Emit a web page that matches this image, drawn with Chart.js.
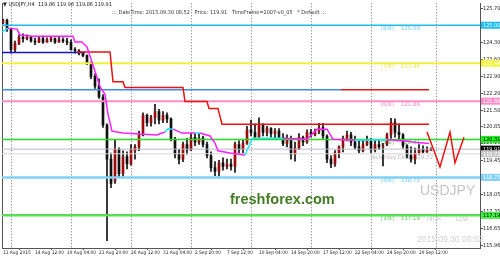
<!DOCTYPE html>
<html>
<head>
<meta charset="utf-8">
<script src="https://cdn.jsdelivr.net/npm/chart.js@4.4.0/dist/chart.umd.min.js"></script>
<style>
html, body { margin: 0; padding: 0; background: #fff; }
#wrap { width: 500px; height: 258px; }
</style>
</head>
<body>
<div id="wrap"><canvas id="myChart" width="500" height="258"></canvas></div>
<script>
// USDJPY H4, 11 Aug - 30 Sep 2015 (one candle per 8 hours)
const timeLabels = ['11 Aug 2015', '14 Aug 12:00', '19 Aug 04:00', '21 Aug 20:00', '26 Aug 12:00', '31 Aug 04:00',
    '2 Sep 20:00', '7 Sep 12:00', '10 Sep 04:00', '14 Sep 20:00', '17 Sep 12:00', '22 Sep 04:00', '24 Sep 20:00', '29 Sep 12:00'];
const labelBars = [0, 8, 16, 24, 32, 40, 48, 56, 64, 72, 80, 88, 96, 104];
const gridBars = [9.5, 24.5, 39.5, 54.5, 69.5, 84.5, 99.5, 117.25];

const opens = [125.10, 125.20, 124.85, 124.00, 124.25, 124.50, 124.45, 124.50, 124.35, 124.30,
    124.45, 124.30, 124.40, 124.45, 124.30, 124.40, 124.35, 124.30, 124.00, 123.95,
    123.85, 123.75, 123.45, 122.90, 122.50, 122.05, 120.90, 119.50, 118.60, 119.90,
    118.90, 119.60, 119.30, 119.85, 120.00, 120.50, 121.30, 121.00, 121.20, 121.45,
    121.10, 121.30, 121.15, 120.30, 119.70, 119.50, 120.10, 119.90, 120.40, 120.20,
    120.35, 120.10, 119.65, 119.15, 119.00, 119.35, 119.20, 119.30, 119.20, 120.10,
    119.90, 120.15, 120.70, 120.60, 120.40, 120.90, 120.60, 120.75, 120.55, 120.65,
    120.40, 120.15, 120.30, 119.70, 119.95, 120.40, 120.20, 120.60, 120.50, 120.65,
    120.80, 120.45, 119.50, 119.30, 119.75, 120.00, 120.35, 120.50, 120.20, 120.00,
    119.85, 120.10, 120.30, 119.90, 120.10, 120.00, 120.10, 120.50, 121.00, 120.60,
    120.50, 120.05, 119.65, 119.50, 119.75, 119.90, 119.80, 119.86];
const highs = [125.25, 125.25, 124.85, 124.35, 124.60, 124.65, 124.60, 124.55, 124.47, 124.52,
    124.55, 124.48, 124.52, 124.48, 124.52, 124.48, 124.47, 124.40, 124.08, 124.00,
    123.90, 123.78, 123.50, 123.00, 122.80, 122.15, 120.95, 119.75, 120.30, 119.96,
    119.84, 119.80, 120.10, 120.10, 120.65, 121.40, 121.35, 121.30, 121.75, 121.55,
    121.45, 121.40, 121.20, 120.40, 119.90, 120.20, 120.35, 120.55, 120.55, 120.55,
    120.45, 120.20, 119.80, 119.40, 119.45, 119.55, 119.50, 119.50, 120.20, 120.25,
    120.30, 120.85, 121.10, 120.95, 121.20, 120.95, 120.85, 120.80, 120.75, 120.75,
    120.55, 120.50, 120.45, 120.20, 120.55, 120.45, 120.70, 120.72, 120.73, 120.97,
    120.97, 120.50, 119.65, 119.85, 120.05, 120.45, 120.65, 120.60, 120.45, 120.30,
    120.30, 120.45, 120.35, 120.30, 120.30, 120.15, 120.57, 121.18, 121.15, 120.95,
    120.55, 120.10, 120.00, 119.95, 120.10, 120.05, 120.00, 119.96];
const lows = [125.05, 124.75, 123.85, 123.90, 124.20, 124.30, 124.40, 124.30, 124.20, 124.28,
    124.25, 124.30, 124.32, 124.25, 124.30, 124.28, 124.20, 123.98, 123.85, 123.78,
    123.70, 123.38, 122.80, 122.40, 121.99, 120.80, 116.15, 118.33, 118.50, 118.74,
    118.80, 119.10, 119.25, 119.50, 119.85, 120.45, 120.85, 120.85, 120.95, 120.95,
    121.00, 121.00, 120.25, 119.55, 119.30, 119.40, 119.70, 119.85, 120.05, 120.10,
    120.00, 119.55, 119.00, 118.82, 118.80, 119.05, 119.10, 119.05, 118.95, 119.75,
    119.75, 120.10, 120.45, 120.30, 120.40, 120.45, 120.45, 120.40, 120.30, 120.30,
    120.05, 120.00, 119.50, 119.42, 119.90, 120.05, 120.15, 120.40, 120.45, 120.55,
    120.35, 119.35, 119.15, 119.20, 119.55, 119.80, 120.25, 120.05, 119.92, 119.75,
    119.80, 120.05, 119.75, 119.80, 119.90, 119.22, 120.05, 120.35, 120.40, 120.30,
    119.95, 119.55, 119.38, 119.30, 119.70, 119.75, 119.78, 119.86];
const closes = [125.20, 124.85, 124.00, 124.25, 124.50, 124.45, 124.50, 124.35, 124.30, 124.45,
    124.30, 124.40, 124.45, 124.30, 124.40, 124.35, 124.30, 124.00, 123.95, 123.85,
    123.75, 123.45, 122.90, 122.50, 122.05, 120.90, 119.50, 118.50, 119.90, 118.90,
    119.60, 119.30, 119.90, 120.00, 120.50, 121.30, 121.00, 121.20, 121.45, 121.10,
    121.30, 121.15, 120.30, 119.70, 119.50, 120.10, 119.90, 120.40, 120.20, 120.35,
    120.10, 119.65, 119.15, 119.00, 119.35, 119.20, 119.30, 119.20, 120.10, 119.90,
    120.15, 120.70, 120.60, 120.40, 120.90, 120.60, 120.75, 120.55, 120.65, 120.40,
    120.15, 120.30, 119.70, 119.95, 120.40, 120.20, 120.60, 120.50, 120.65, 120.80,
    120.45, 119.50, 119.30, 119.75, 120.00, 120.35, 120.50, 120.20, 120.00, 119.85,
    120.10, 120.30, 119.90, 120.10, 120.00, 120.05, 120.50, 121.00, 120.60, 120.50,
    120.05, 119.65, 119.50, 119.75, 119.90, 119.80, 119.90, 119.91];

// trend line of the indicator: [bar, price], null = gap
const magentaPts = [[1.25, 124.88], [3.5, 124.84], [4.25, 124.60], [7.5, 124.55], [17.5, 124.55], [18, 124.31], [19.75, 124.31],
    [20.5, 124.19], [21, 124.11], [24.25, 122.48], [25.5, 122.16], [26.25, 121.34], [27.25, 120.65], [30, 120.57],
    [38.5, 120.49], [39.75, 120.57], [40.5, 120.61], [41, null], [42.5, 120.73], [44.75, 120.57], [48, 120.57], [48.5, null],
    [49.25, 120.57], [51.75, 120.45], [53, 120.16], [53.75, 119.84], [56.75, 119.75], [60.5, 119.67], [61, null],
    [70, 120.36], [76, 120.32], [78.5, 120.73], [81, 120.73], [82.5, 120.32], [88, 120.28], [90, null],
    [96, 120.30], [100.5, 120.24], [103.5, 120.18], [106.5, 120.14]];
const cyanPts = [[-0.25, 124.72], [1.25, 124.88], [2, null], [40.5, 120.61], [41.25, 120.75], [42.5, 120.73], [43, null],
    [48, 120.57], [49.25, 120.57], [50, null], [60.5, 119.67], [62.25, 120.32], [62.75, 120.36], [70, 120.36], [72, null],
    [88, 120.28], [96, 120.30]];
const resistPts = [[18.5, 123.90], [26.75, 123.90], [27.5, 122.68], [30, 122.68], [30.5, 122.44], [45, 122.44], [45.5, 121.87],
    [51, 121.87], [51.5, 121.58], [53.75, 121.58], [54.75, 120.93], [106.5, 120.93]];
const zigzagPts = [[106, 120.61], [109.25, 119.18], [111.75, 120.61], [113, 119.35], [115.25, 120.40]];

const murreyLevels = [125.00, 123.44, 121.88, 120.31, 118.75, 117.19];
const murreyTags = ['[8/8]', '[7/8]', '[6/8]', '[5/8]', '[4/8]', '[3/8]'];
const bidPrice = 119.91;
const yesterdayClose = 119.72;
const pivotLevel = 122.35;
const supportLevel = 123.88;
const priceTicks = [125.70, 125.00, 124.30, 123.60, 122.90, 122.20, 121.50, 120.85, 120.16, 119.45,
    118.75, 118.05, 117.35, 116.65, 115.96];

const xMin = -0.25, xMax = 119.25;
const small = '"Liberation Sans Narrow", "DejaVu Sans Condensed", sans-serif';
const murreyColors = ['#1ebcf0', '#f2f040', '#ff8cc6', '#22dd22', '#7fd0f4', '#55e055'];
const murreyTextColors = ['#66ccff', '#e8e860', '#ff88bb', '#55cc55', '#66ccff', '#55cc55'];
const murreyWidths = [1.5, 2, 2, 1.5, 2.5, 2.5];

const toXY = pts => pts.map(p => ({ x: p[0], y: p[1] }));

function hline(y, x0, x1, color, width, order) {
    return {
        type: 'line', data: [{ x: x0, y: y }, { x: x1, y: y }],
        borderColor: color, borderWidth: width, pointRadius: 0, order: order
    };
}

const datasets = [];
datasets.push({
    type: 'bar', data: highs.map((h, i) => ({ x: i, y: [lows[i], h] })),
    backgroundColor: '#111', barThickness: 1, grouped: false, order: 11
});
datasets.push({
    type: 'bar', data: opens.map((o, i) => ({ x: i, y: [o, closes[i]] })),
    backgroundColor: c => closes[c.dataIndex] >= opens[c.dataIndex] ? '#9e0a0a' : '#111',
    barThickness: 2, minBarLength: 1, grouped: false, order: 10
});
murreyLevels.forEach((v, k) => datasets.push(hline(v, xMin, xMax, murreyColors[k], murreyWidths[k], 8)));
datasets.push(hline(bidPrice, xMin, xMax, '#b4b9cc', 1, 8));
datasets.push(hline(yesterdayClose, xMin, xMax, '#d6d6d6', 1, 8));
datasets.push(hline(pivotLevel, xMin, 84.5, '#3a8ce8', 1.5, 7));
datasets.push(hline(pivotLevel, 84.5, 106.5, '#e01818', 1.5, 7));
datasets.push(hline(supportLevel, xMin, 20.5, '#1414d0', 1.5, 7));
datasets.push({ type: 'line', data: toXY(resistPts), borderColor: '#ee1111', borderWidth: 1.5, pointRadius: 0, order: 6 });
datasets.push({ type: 'line', data: toXY(magentaPts), borderColor: '#ff1eff', borderWidth: 1.5, pointRadius: 0, spanGaps: false, order: 5 });
datasets.push({ type: 'line', data: toXY(cyanPts), borderColor: '#1ee8ff', borderWidth: 1.5, pointRadius: 0, spanGaps: false, order: 4 });
datasets.push({ type: 'line', data: toXY(zigzagPts), borderColor: '#f01010', borderWidth: 1.5, pointRadius: 0, order: 3 });

const overlay = {
    id: 'overlay',
    beforeDatasetsDraw(chart) {
        const ctx = chart.ctx, xs = chart.scales.x, ys = chart.scales.y;
        ctx.save();
        ctx.textBaseline = 'middle';
        ctx.textAlign = 'left';
        ctx.font = 'bold 14.5px "Liberation Sans", sans-serif';
        ctx.fillStyle = '#427c22';
        ctx.fillText('freshforex.com', 230, 200);
        ctx.font = '14px "Liberation Sans", sans-serif';
        ctx.fillStyle = '#c6c6c6';
        ctx.fillText('USDJPY', 420, 191);
        ctx.font = '8.5px "Liberation Sans", sans-serif';
        ctx.fillStyle = '#d2d2d2';
        ctx.fillText('2015.09.30 08:52', 417, 240);

        ctx.font = '5.5px ' + small;
        ctx.fillStyle = '#222';
        ctx.fillText('\u25BC USDJPY,H4  119.86 119.96 119.86 119.91', 3, 5);
        ctx.fillStyle = '#333';
        ctx.fillText('::: DateTime: 2015.09.30 08:52   Price: 119.91   TimeFrame=2007-v0_05   * Default :::', 112, 13);

        ctx.font = '6px ' + small;
        murreyLevels.forEach((v, k) => {
            const y = ys.getPixelForValue(v) + 3.5;
            ctx.fillStyle = murreyTextColors[k];
            ctx.fillText(murreyTags[k], xs.getPixelForValue(94.5), y);
            ctx.fillText(v.toFixed(2), xs.getPixelForValue(99.5), y);
        });
        ctx.fillStyle = '#c4c4c4';
        const yl = ys.getPixelForValue(117.19) + 4;
        ctx.fillText('HIGH', xs.getPixelForValue(106), yl);
        ctx.fillText('LOW', xs.getPixelForValue(113.25), yl);
        ctx.fillStyle = '#b8b8b8';
        ctx.fillText('Yesterday Close ' + yesterdayClose.toFixed(2), xs.getPixelForValue(91.75), ys.getPixelForValue(yesterdayClose) + 4);
        ctx.restore();
    },
    afterDraw(chart) {
        const ctx = chart.ctx, ys = chart.scales.y, right = chart.chartArea.right;
        const boxes = [
            [murreyLevels[0], '#1ebcf0', '#fff'], [murreyLevels[1], '#f6f43c', '#fff'], [murreyLevels[2], '#ff8cc6', '#fff'],
            [murreyLevels[3], '#22ee22', '#000'], [bidPrice, '#000', '#fff'], [yesterdayClose, '#c6c6c6', '#fff'],
            [murreyLevels[4], '#7fd0f4', '#fff'], [murreyLevels[5], '#44ee44', '#000']
        ];
        ctx.save();
        ctx.font = '5.5px ' + small;
        ctx.textBaseline = 'middle';
        boxes.forEach(b => {
            const y = ys.getPixelForValue(b[0]);
            ctx.fillStyle = b[1];
            ctx.fillRect(right + 1, y - 3.5, 500 - right - 1, 7);
            ctx.fillStyle = b[2];
            ctx.fillText(b[0].toFixed(2), right + 3, y + 0.5);
        });
        ctx.restore();
    }
};

const ctx = document.getElementById('myChart').getContext('2d');
const myChart = new Chart(ctx, {
    type: 'bar',
    data: { datasets: datasets },
    plugins: [overlay],
    options: {
        responsive: false,
        animation: false,
        devicePixelRatio: 1,
        layout: { padding: { top: 1, left: 2, right: 0, bottom: 0 } },
        plugins: { legend: { display: false }, tooltip: { enabled: false } },
        scales: {
            x: {
                type: 'linear', min: xMin, max: xMax, offset: false, position: 'bottom',
                afterBuildTicks: ax => { ax.ticks = labelBars.map(v => ({ value: v })); },
                afterFit: ax => { ax.height = 10; },
                ticks: {
                    autoSkip: false, maxRotation: 0, align: 'start', padding: 0, color: '#222',
                    font: { family: small, size: 4.8 },
                    callback: v => timeLabels[labelBars.indexOf(v)] || ''
                },
                grid: { drawOnChartArea: false, tickLength: 2, color: '#555' },
                border: { color: '#555' }
            },
            xg: {
                type: 'linear', min: xMin, max: xMax, offset: false, position: 'bottom', weight: 5,
                afterBuildTicks: ax => { ax.ticks = gridBars.map(v => ({ value: v })); },
                afterFit: ax => { ax.height = 0; },
                ticks: { display: false },
                grid: { drawTicks: false, color: '#707070', lineWidth: 1 },
                border: { display: false, dash: [1, 2] }
            },
            y: {
                type: 'linear', position: 'right', min: 115.85, max: 125.90,
                afterBuildTicks: ax => { ax.ticks = priceTicks.map(v => ({ value: v })); },
                afterFit: ax => { ax.width = 20; },
                ticks: { padding: 0, color: '#222', font: { family: small, size: 5.5 }, callback: v => v.toFixed(2) },
                grid: { drawOnChartArea: false, tickLength: 3, color: '#555' },
                border: { color: '#555' }
            },
            yl: {
                type: 'linear', position: 'left',
                afterFit: ax => { ax.width = 0; },
                ticks: { display: false },
                grid: { display: false },
                border: { color: '#555' }
            }
        }
    }
});
</script>
</body>
</html>
